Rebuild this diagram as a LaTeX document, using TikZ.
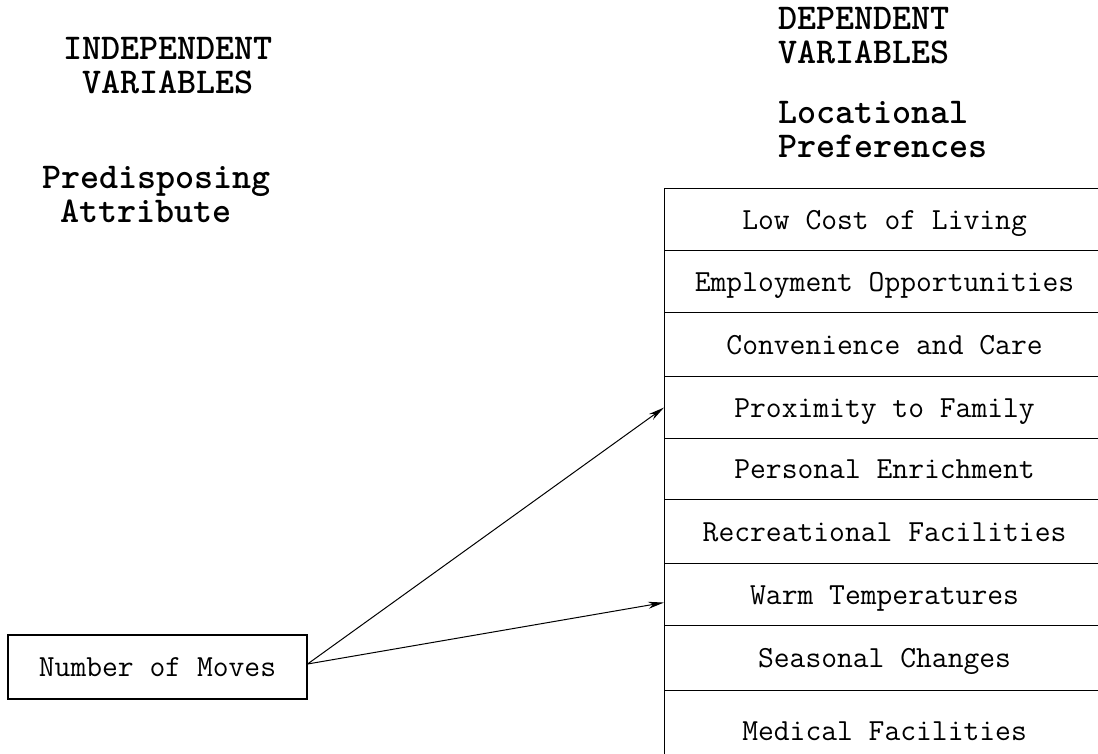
\documentclass[tikz,border=0pt]{standalone}
\usetikzlibrary{arrows.meta,calc}

\tikzset{
  heading/.style={anchor=base west, inner sep=0pt, font=\ttfamily\bfseries\fontsize{36.3}{38}\selectfont},
  itembox/.style={draw, line width=1.1pt, anchor=north west, inner sep=0pt,
    minimum width=440pt, text height=19pt, text depth=0pt,
    font=\ttfamily\fontsize{30.7}{33}\selectfont},
  leftbox/.style={draw, line width=1.1pt, inner sep=0pt, minimum width=299pt,
    minimum height=64pt, text height=19pt, text depth=0pt,
    font=\ttfamily\fontsize{30.7}{33}\selectfont},
  link/.style={line width=1pt, -{Stealth[length=16pt,width=7pt]}}
}

\begin{document}
\begin{tikzpicture}[x=1pt,y=-1pt]
  \useasboundingbox (0,0) rectangle (1098,753);

  % column headings
  \node[heading] (indep) at (63,59.5) {INDEPENDENT};
  \node[heading] (indepv) at (82,93) {VARIABLES};
  \node[heading] (predis) at (42,188) {Predisposing};
  \node[heading] (attr) at (60,222) {Attribute};
  \node[heading] (dep) at (778,29) {DEPENDENT};
  \node[heading] (depv) at (778,63) {VARIABLES};
  \node[heading] (loc) at (778,123) {Locational};
  \node[heading] (pref) at (778,157) {Preferences};

  % stacked preference rows
  \node[itembox, minimum height=62pt] (lowcost) at (664,188) {Low Cost of Living};
  \node[itembox, minimum height=62pt] (employ) at (664,250) {Employment Opportunities};
  \node[itembox, minimum height=64pt] (conv) at (664,312) {Convenience and Care};
  \node[itembox, minimum height=62pt] (prox) at (664,376) {Proximity to Family};
  \node[itembox, minimum height=61pt] (enrich) at (664,438) {Personal Enrichment};
  \node[itembox, minimum height=64pt] (recr) at (664,499) {Recreational Facilities};
  \node[itembox, minimum height=62pt] (warm) at (664,563) {Warm Temperatures};
  \node[itembox, minimum height=65pt] (season) at (664,625) {Seasonal Changes};
  \node[itembox, minimum height=80pt] (medical) at (664,690) {Medical Facilities};

  % attribute box
  \node[leftbox] (moves) at (157.5,667) {Number of Moves};

  % links
  \coordinate (src) at ($(moves.east)+(0,-3)$);
  \draw[link] (src) -- (prox.west);
  \draw[link] (src) -- ($(warm.west)+(0,8)$);
\end{tikzpicture}
\end{document}
